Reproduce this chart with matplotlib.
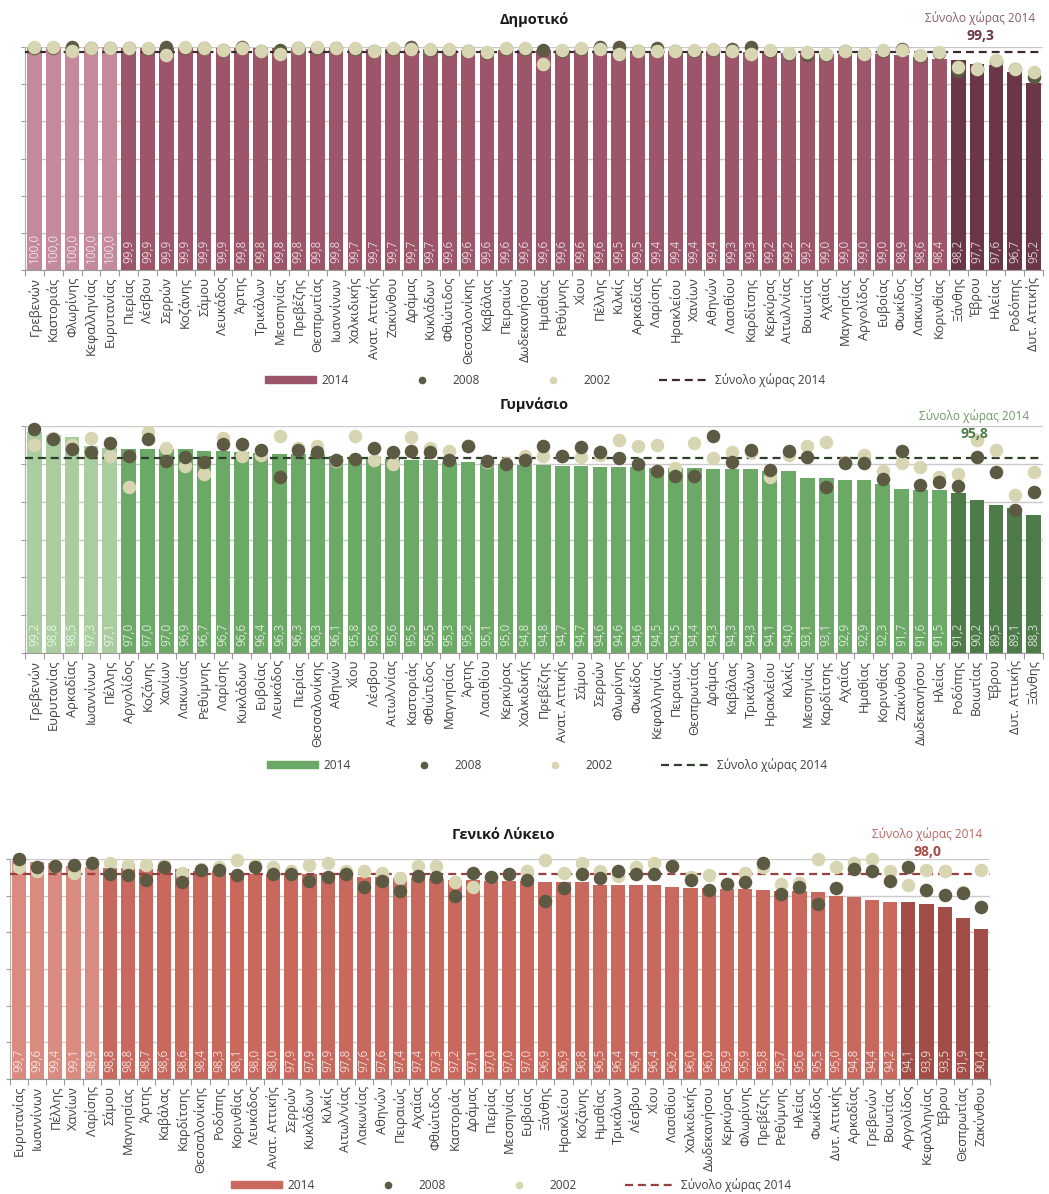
import matplotlib
matplotlib.use("Agg")
import matplotlib.pyplot as plt
from matplotlib.patches import Patch
from matplotlib.lines import Line2D

plt.rcParams["font.family"] = ["Open Sans", "DejaVu Sans"]

# ---------------- Δημοτικό ----------------
dim_regions = ["Γρεβενών", "Καστοριάς", "Φλωρίνης", "Κεφαλληνίας", "Ευρυτανίας", "Πιερίας",
               "Λέσβου", "Σερρών", "Κοζάνης", "Σάμου", "Λευκάδος", "Άρτης", "Τρικάλων",
               "Μεσσηνίας", "Πρεβέζης", "Θεσπρωτίας", "Ιωαννίνων", "Χαλκιδικής", "Ανατ. Αττικής",
               "Ζακύνθου", "Δράμας", "Κυκλάδων", "Φθιώτιδος", "Θεσσαλονίκης", "Καβάλας",
               "Πειραιώς", "Δωδεκανήσου", "Ημαθίας", "Ρεθύμνης", "Χίου", "Πέλλης", "Κιλκίς",
               "Αρκαδίας", "Λαρίσης", "Ηρακλείου", "Χανίων", "Αθηνών", "Λασιθίου", "Καρδίτσης",
               "Κερκύρας", "Αιτωλ/νίας", "Βοιωτίας", "Αχαΐας", "Μαγνησίας", "Αργολίδος",
               "Ευβοίας", "Φωκίδος", "Λακωνίας", "Κορινθίας", "Ξάνθης", "Έβρου", "Ηλείας",
               "Ροδόπης", "Δυτ. Αττικής"]
dim_2014 = [100.0, 100.0, 100.0, 100.0, 100.0, 99.9, 99.9, 99.9, 99.9, 99.9, 99.9,
            99.8, 99.8, 99.8, 99.8, 99.8, 99.8, 99.7, 99.7, 99.7, 99.7, 99.7,
            99.6, 99.6, 99.6, 99.6, 99.6, 99.6, 99.6, 99.6, 99.6, 99.5, 99.5,
            99.4, 99.4, 99.4, 99.4, 99.3, 99.3, 99.2, 99.2, 99.2, 99.0, 99.0,
            99.0, 99.0, 98.9, 98.6, 98.4, 98.2, 97.7, 97.6, 96.7, 95.2]
dim_2008 = [99.9, 99.9, 100.0, 99.9, 99.8, 99.9, 99.7, 100.0, 99.9, 99.8, 99.6,
            100.0, 99.4, 99.6, 99.8, 99.9, 99.8, 99.7, 99.4, 99.7, 100.0, 99.6,
            99.6, 99.4, 99.2, 99.7, 99.7, 99.6, 99.5, 99.7, 100.0, 100.0, 99.4,
            99.8, 99.4, 99.5, 99.6, 99.7, 100.0, 99.5, 99.1, 98.9, 98.9, 99.4,
            99.0, 99.5, 99.7, 98.8, 99.2, 96.8, 97.0, 98.1, 97.0, 95.9]
dim_2002 = [100.0, 100.0, 99.5, 99.9, 99.8, 99.9, 99.8, 98.9, 100.0, 99.9, 99.6,
            99.9, 99.5, 99.1, 99.9, 100.0, 99.9, 99.8, 99.5, 99.8, 99.7, 99.7,
            99.7, 99.5, 99.3, 99.8, 99.8, 97.7, 99.6, 99.8, 99.7, 99.1, 99.5,
            99.4, 99.5, 99.6, 99.7, 99.4, 99.1, 99.6, 99.2, 99.3, 99.0, 99.5,
            99.1, 99.6, 99.6, 98.9, 99.3, 97.3, 97.1, 98.3, 97.1, 96.6]
dim_total = 99.3

# ---------------- Γυμνάσιο ----------------
gym_regions = ["Γρεβενών", "Ευρυτανίας", "Αρκαδίας", "Ιωαννίνων", "Πέλλης", "Αργολίδος",
               "Κοζάνης", "Χανίων", "Λακωνίας", "Ρεθύμνης", "Λαρίσης", "Κυκλάδων", "Ευβοίας",
               "Λευκάδος", "Πιερίας", "Θεσσαλονίκης", "Αθηνών", "Χίου", "Λέσβου", "Αιτωλ/νίας",
               "Καστοριάς", "Φθιώτιδος", "Μαγνησίας", "Άρτης", "Λασιθίου", "Κερκύρας",
               "Χαλκιδικής", "Πρεβέζης", "Ανατ. Αττικής", "Σάμου", "Σερρών", "Φλωρίνης",
               "Φωκίδος", "Κεφαλληνίας", "Πειραιώς", "Θεσπρωτίας", "Δράμας", "Καβάλας",
               "Τρικάλων", "Ηρακλείου", "Κιλκίς", "Μεσσηνίας", "Καρδίτσης", "Αχαΐας",
               "Ημαθίας", "Κορινθίας", "Ζακύνθου", "Δωδεκανήσου", "Ηλείας", "Ροδόπης",
               "Βοιωτίας", "Έβρου", "Δυτ. Αττικής", "Ξάνθης"]
gym_2014 = [99.2, 98.8, 98.5, 97.3, 97.1, 97.0, 97.0, 97.0, 96.9, 96.7, 96.7, 96.6,
            96.4, 96.3, 96.3, 96.3, 96.1, 95.8, 95.6, 95.6, 95.5, 95.5, 95.3, 95.2,
            95.1, 95.0, 94.8, 94.8, 94.7, 94.7, 94.6, 94.6, 94.6, 94.5, 94.5, 94.4,
            94.3, 94.3, 94.3, 94.1, 94.0, 93.1, 93.1, 92.9, 92.9, 92.3, 91.7, 91.6,
            91.5, 91.2, 90.2, 89.5, 89.1, 88.3]
gym_2008 = [99.6, 98.3, 97.0, 96.6, 97.7, 96.1, 98.3, 95.4, 95.9, 95.2, 97.6, 97.6,
            96.8, 93.2, 96.8, 96.6, 95.5, 95.7, 97.1, 96.5, 96.7, 96.6, 95.5, 97.3,
            95.4, 95.0, 95.5, 97.4, 96.0, 97.2, 96.5, 95.8, 95.0, 94.1, 93.4, 93.4,
            98.7, 95.2, 96.8, 94.2, 96.7, 95.9, 92.0, 95.1, 95.1, 93.0, 96.7, 92.2,
            92.6, 92.1, 95.9, 93.9, 88.9, 91.3]
gym_2002 = [97.5, 98.4, 97.5, 98.4, 96.0, 91.9, 99.2, 97.1, 94.7, 93.6, 98.4, 96.0,
            96.2, 98.7, 97.1, 97.4, 95.4, 98.7, 95.5, 95.0, 98.6, 97.1, 96.7, 97.4,
            95.3, 95.1, 96.0, 96.0, 96.0, 95.9, 96.2, 98.2, 97.4, 97.5, 94.4, 97.8,
            95.8, 96.5, 96.5, 93.3, 96.2, 97.4, 97.9, 95.3, 96.2, 94.1, 95.1, 94.6,
            93.3, 93.7, 98.2, 96.8, 90.9, 93.9]
gym_total = 95.8

# ---------------- Γενικό Λύκειο ----------------
lyk_regions = ["Ευρυτανίας", "Ιωαννίνων", "Πέλλης", "Χανίων", "Λαρίσης", "Σάμου",
               "Μαγνησίας", "Άρτης", "Καβάλας", "Καρδίτσης", "Θεσσαλονίκης", "Ροδόπης",
               "Κορινθίας", "Λευκάδος", "Ανατ. Αττικής", "Σερρών", "Κυκλάδων", "Κιλκίς",
               "Αιτωλ/νίας", "Λακωνίας", "Αθηνών", "Πειραιώς", "Αχαΐας", "Φθιώτιδος",
               "Καστοριάς", "Δράμας", "Πιερίας", "Μεσσηνίας", "Ευβοίας", "Ξάνθης",
               "Ηρακλείου", "Κοζάνης", "Ημαθίας", "Τρικάλων", "Λέσβου", "Χίου", "Λασιθίου",
               "Χαλκιδικής", "Δωδεκανήσου", "Κερκύρας", "Φλωρίνης", "Πρεβέζης", "Ρεθύμνης",
               "Ηλείας", "Φωκίδος", "Δυτ. Αττικής", "Αρκαδίας", "Γρεβενών", "Βοιωτίας",
               "Αργολίδος", "Κεφαλληνίας", "Έβρου", "Θεσπρωτίας", "Ζακύνθου"]
lyk_2014 = [99.7, 99.6, 99.4, 99.1, 98.9, 98.8, 98.8, 98.7, 98.6, 98.6, 98.4, 98.3,
            98.1, 98.0, 98.0, 97.9, 97.9, 97.9, 97.8, 97.6, 97.6, 97.4, 97.4, 97.3,
            97.2, 97.1, 97.0, 97.0, 97.0, 96.9, 96.9, 96.8, 96.5, 96.4, 96.4, 96.4,
            96.2, 96.0, 96.0, 95.9, 95.9, 95.8, 95.7, 95.6, 95.5, 95.0, 94.8, 94.4,
            94.2, 94.1, 93.9, 93.5, 91.9, 90.4]
lyk_2008 = [100.0, 98.9, 99.1, 99.2, 99.5, 97.9, 97.8, 97.1, 98.9, 96.8, 98.5, 98.5,
            97.8, 98.9, 98.0, 98.0, 97.0, 97.5, 97.9, 96.2, 97.0, 95.7, 97.7, 97.5,
            94.9, 98.1, 97.5, 98.0, 97.1, 94.3, 96.1, 97.9, 97.4, 98.4, 97.9, 97.9,
            99.0, 97.2, 95.8, 96.6, 96.9, 99.5, 95.2, 96.2, 93.8, 96.1, 98.6, 98.3,
            97.0, 98.9, 95.8, 95.1, 95.3, 93.5]
lyk_2002 = [98.9, 98.3, 99.1, 98.1, 99.5, 99.4, 99.2, 99.2, 99.2, 98.1, 98.7, 98.9,
            99.8, 99.2, 98.9, 98.4, 99.2, 99.5, 98.3, 98.3, 98.1, 97.4, 99.0, 99.0,
            96.9, 96.2, 97.5, 98.0, 98.4, 99.8, 98.1, 99.4, 98.3, 97.7, 98.9, 99.5,
            99.0, 97.5, 97.8, 96.6, 98.1, 98.9, 96.6, 96.7, 100.0, 98.9, 99.4, 100.0,
            98.4, 96.5, 98.5, 98.4, 95.5, 98.5]
lyk_total = 98.0

TITLES = ["Δημοτικό", "Γυμνάσιο", "Γενικό Λύκειο"]
TOTAL_LABEL = "Σύνολο χώρας 2014"
YEARS = ["2014", "2008", "2002"]

W, H = 1049, 1194
fig = plt.figure(figsize=(W / 100, H / 100), dpi=100)
fig.patch.set_facecolor("white")

DOT_2008 = "#5d5a44"
DOT_2002 = "#d8d5b3"
GRID = "#c9c9c9"
LABEL_COLOR = "#3f3f3f"


def fx(px):
    return px / W


def fy(py):
    return 1 - py / H


def panel(rect, regions, v14, v08, v02, total, bar_cols, line_col,
          note_col, note_bold_col, title, title_xy, note_xy, legend_xy, dots_front):
    left, top, right, bottom = rect
    ax = fig.add_axes([fx(left), fy(bottom), fx(right - left), (bottom - top) / H])
    n = len(regions)
    x = list(range(n))
    cols = [bar_cols[0] if i < 5 else (bar_cols[2] if i >= n - 5 else bar_cols[1])
            for i in range(n)]
    ax.set_xlim(-0.5, n - 0.5)
    ax.set_ylim(70, 100)
    for g in range(70, 101, 5):
        ax.axhline(g, color=GRID, lw=1.0, zorder=0)
    ax.bar(x, [v - 70 for v in v14], bottom=70, width=0.78, color=cols, zorder=2)
    ax.axhline(total, color=line_col, lw=1.6, dashes=(3.6, 2.2), zorder=3)
    z08, z02 = (5, 4) if dots_front == "2008" else (4, 5)
    ax.scatter(x, v08, s=95, color=DOT_2008, zorder=z08, clip_on=False, linewidths=0)
    ax.scatter(x, v02, s=95, color=DOT_2002, zorder=z02, clip_on=False, linewidths=0)
    for xi, v in zip(x, v14):
        ax.text(xi, 70.9, f"{v:.1f}".replace(".", ","), rotation=90, ha="center",
                va="bottom", fontsize=8.5, color="white", alpha=0.75, zorder=6)
    ax.set_xticks(x)
    ax.set_xticklabels(regions, rotation=90, fontsize=9.3, color=LABEL_COLOR)
    ax.set_xticks([i - 0.5 for i in range(n + 1)], minor=True)
    ax.tick_params(axis="x", which="major", length=0, pad=5)
    ax.tick_params(axis="x", which="minor", length=4, color="#9a9a9a", width=0.8)
    ax.set_yticks(range(70, 101, 5))
    ax.tick_params(axis="y", length=3, color="#9a9a9a", labelleft=False, width=0.8)
    for s in ("top", "right"):
        ax.spines[s].set_visible(False)
    ax.spines["bottom"].set_color("#9a9a9a")
    ax.spines["left"].set_color("#b0b0b0")
    ax.spines["left"].set_linewidth(0.8)

    fig.text(fx(title_xy[0]), fy(title_xy[1]), title, ha="center", va="center",
             fontsize=10.5, fontweight="bold", color="#1a1a1a")
    fig.text(fx(note_xy[0]), fy(note_xy[1]), TOTAL_LABEL, ha="center", va="center",
             fontsize=8.6, color=note_col)
    fig.text(fx(note_xy[0]), fy(note_xy[1] + 18), f"{total:.1f}".replace(".", ","),
             ha="center", va="center", fontsize=10, fontweight="bold", color=note_bold_col)

    handles = [Patch(color=bar_cols[1]),
               Line2D([], [], ls="none", marker="o", ms=4.5, color=DOT_2008),
               Line2D([], [], ls="none", marker="o", ms=4.5, color=DOT_2002),
               Line2D([], [], color=line_col, lw=1.6, dashes=(3.6, 2.2))]
    fig.legend(handles, YEARS + [TOTAL_LABEL], loc="center",
               bbox_to_anchor=(fx(legend_xy[0]), fy(legend_xy[1])), ncol=4,
               frameon=False, fontsize=8.6, handlelength=4.3, handleheight=0.55,
               handletextpad=0.4, columnspacing=4.0, borderpad=0,
               labelcolor=LABEL_COLOR)
    return ax


panel((25, 47, 1043, 270), dim_regions, dim_2014, dim_2008, dim_2002, dim_total,
      ["#c4899a", "#9d5569", "#6b3646"], "#3a2a2e", "#8a5a6b", "#6b3646",
      TITLES[0], (534, 20), (980, 18), (545, 380), "2002")
panel((25, 426, 1043, 653), gym_regions, gym_2014, gym_2008, gym_2002, gym_total,
      ["#a9cd9f", "#6ca866", "#4d7c49"], "#2e3f2c", "#6f9a66", "#4d7c49",
      TITLES[1], (534, 405), (974, 416), (547, 765), "2008")
panel((10, 859, 990, 1079), lyk_regions, lyk_2014, lyk_2008, lyk_2002, lyk_total,
      ["#d98b80", "#c9685d", "#a24d47"], "#9a3f3f", "#b8655f", "#a24d47",
      TITLES[2], (503, 835), (927, 834), (511, 1185), "2008")

fig.savefig("out.png", dpi=100, facecolor="white")
